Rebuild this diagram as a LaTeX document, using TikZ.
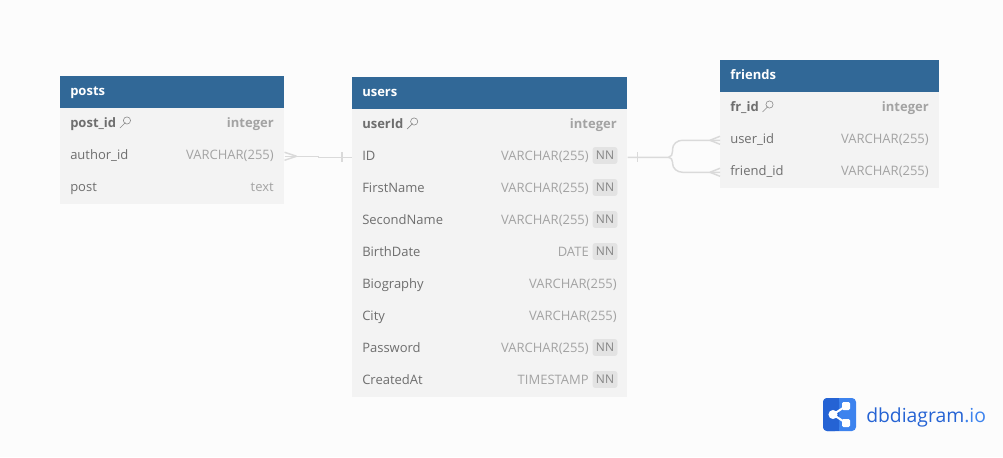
\documentclass[tikz,border=0pt]{standalone}
\usepackage{fontspec}
\setmainfont{Open Sans}
\definecolor{fondo}{HTML}{FCFCFC}
\definecolor{cabecera}{HTML}{316897}
\definecolor{fondofila}{HTML}{F3F3F3}
\definecolor{textofila}{HTML}{6E6E6E}
\definecolor{textotipo}{HTML}{A3A3A3}
\definecolor{fondonn}{HTML}{E3E3E3}
\definecolor{enlace}{HTML}{DADADA}
\definecolor{logoa}{HTML}{2563D4}
\definecolor{logob}{HTML}{3D83EE}
\tikzset{
    x=0.75pt,y=-0.75pt,
    letra/.style={font=\fontsize{9.75pt}{11pt}\selectfont,inner sep=0pt},
    nombre/.style={letra,anchor=base west,text=textofila},
    tipo/.style={letra,anchor=base east,text=textotipo},
    relacion/.style={draw=enlace,line width=1.1pt},
    pics/cabeza/.style args={#1/#2}{
        code={
            \node[fill=cabecera,inner sep=0pt,anchor=north west,minimum width=#2*0.75pt,minimum height=24pt] (-head) at (0,0) {};
            \node[letra,anchor=base west,text=white,font=\fontsize{9.75pt}{11pt}\selectfont\bfseries] (-title) at (10,19) {#1};
        }
    },
    pics/fila/.style args={#1/#2/#3}{
        code={
            \node[fill=fondofila,inner sep=0pt,anchor=north west,minimum width=#3*0.75pt,minimum height=24pt] (-row) at (0,0) {};
            \node[nombre] (-name) at (10,19) {#1};
            \node[tipo] (-type) at (#3-10,19) {#2};
        }
    },
    pics/filann/.style args={#1/#2/#3}{
        code={
            \node[fill=fondofila,inner sep=0pt,anchor=north west,minimum width=#3*0.75pt,minimum height=24pt] (-row) at (0,0) {};
            \node[nombre] (-name) at (10,19) {#1};
            \node[tipo] (-type) at (#3-38,19) {#2};
            \filldraw[fondonn,rounded corners=1.5pt] (#3-34,6.5) rectangle (#3-10,22.5);
            \node[letra,text=textofila!85,font=\fontsize{9pt}{11pt}\selectfont] (-nn) at (#3-22,14.7) {NN};
        }
    },
    pics/filapk/.style args={#1/#2/#3}{
        code={
            \node[fill=fondofila,inner sep=0pt,anchor=north west,minimum width=#3*0.75pt,minimum height=24pt] (-row) at (0,0) {};
            \node[nombre,font=\fontsize{9.75pt}{11pt}\selectfont\bfseries] (-name) at (10,19) {#1};
            \node[tipo,font=\fontsize{9.75pt}{11pt}\selectfont\bfseries] (-type) at (#3-10,19) {#2};
            % llave
            \draw[textofila!80,line width=0.45pt] (-name.base east) ++(3.5,1) -- ++(5.5,-5.5) (-name.base east) ++(10.5,-6.5) circle[radius=2.7pt];
        }
    }
}
\begin{document}
\begin{tikzpicture}
    \fill[fondo] (0,0) rectangle (1003,457);
    \useasboundingbox (0,0) rectangle (1003,457);

    % posts
    \pic (posts) [shift={(60,76)}] {cabeza=posts/224};
    \pic (postid) [shift={(60,108)}] {filapk=post\_id/integer/224};
    \pic (authorid) [shift={(60,140)}] {fila=author\_id/VARCHAR(255)/224};
    \pic (post) [shift={(60,172)}] {fila=post/text/224};

    % users
    \pic (users) [shift={(352,77)}] {cabeza=users/275};
    \pic (userid) [shift={(352,109)}] {filapk=userId/integer/275};
    \pic (id) [shift={(352,141)}] {filann=ID/VARCHAR(255)/275};
    \pic (firstname) [shift={(352,173)}] {filann=FirstName/VARCHAR(255)/275};
    \pic (secondname) [shift={(352,205)}] {filann=SecondName/VARCHAR(255)/275};
    \pic (birthdate) [shift={(352,237)}] {filann=BirthDate/DATE/275};
    \pic (biography) [shift={(352,269)}] {fila=Biography/VARCHAR(255)/275};
    \pic (city) [shift={(352,301)}] {fila=City/VARCHAR(255)/275};
    \pic (password) [shift={(352,333)}] {filann=Password/VARCHAR(255)/275};
    \pic (createdat) [shift={(352,365)}] {filann=CreatedAt/TIMESTAMP/275};

    % friends
    \pic (friends) [shift={(720,60)}] {cabeza=friends/219};
    \pic (frid) [shift={(720,92)}] {filapk=fr\_id/integer/219};
    \pic (userfk) [shift={(720,124)}] {fila=user\_id/VARCHAR(255)/219};
    \pic (friendfk) [shift={(720,156)}] {fila=friend\_id/VARCHAR(255)/219};

    % relaciones
    \draw[relacion] (authorid-row.east) -- ++(34,0) -- ++(0,1) -- (id-row.west);
    \draw[relacion] (authorid-row.east) ++(12,0) -- ++(-12,-4) (authorid-row.east) ++(12,0) -- ++(-12,4);
    \draw[relacion] (id-row.west) ++(-10,-5) -- ++(0,10);

    \draw[relacion] (id-row.east) -- ++(41,0) to[out=0,in=-90] ++(4,-6) -- ++(0,-2) to[out=90,in=180] ++(10,-9) -- (userfk-row.west);
    \draw[relacion] (id-row.east) ++(41,0) to[out=0,in=90] ++(4,5) -- ++(0,1) to[out=-90,in=180] ++(10,9) -- (friendfk-row.west);
    \draw[relacion] (userfk-row.west) ++(-10,0) -- ++(10,-4) (userfk-row.west) ++(-10,0) -- ++(10,4);
    \draw[relacion] (friendfk-row.west) ++(-10,0) -- ++(10,-4) (friendfk-row.west) ++(-10,0) -- ++(10,4);
    \draw[relacion] (id-row.east) ++(10,-5) -- ++(0,10);

    % marca
    \fill[logob,rounded corners=3pt] (823,398) rectangle (856,431);
    \fill[logoa,rounded corners=3pt] (823,398) -- (839,398) -- (839,431) -- (823,431) -- cycle;
    \fill[logoa] (835,398) rectangle (839,431);
    \draw[white,line width=1.5pt] (846,406) -- (833,414.5) -- (846,423);
    \fill[white] (833,414.5) circle[radius=3.4pt];
    \fill[white,rounded corners=1pt] (842,402) rectangle (850,410);
    \fill[white,rounded corners=1pt] (842,419) rectangle (850,427);
    \node[inner sep=0pt,anchor=base west,text=logoa,font=\fontsize{14.5pt}{18pt}\selectfont] (marca) at (866,422.5) {dbdiagram\textcolor{logob}{.io}};
\end{tikzpicture}
\end{document}
